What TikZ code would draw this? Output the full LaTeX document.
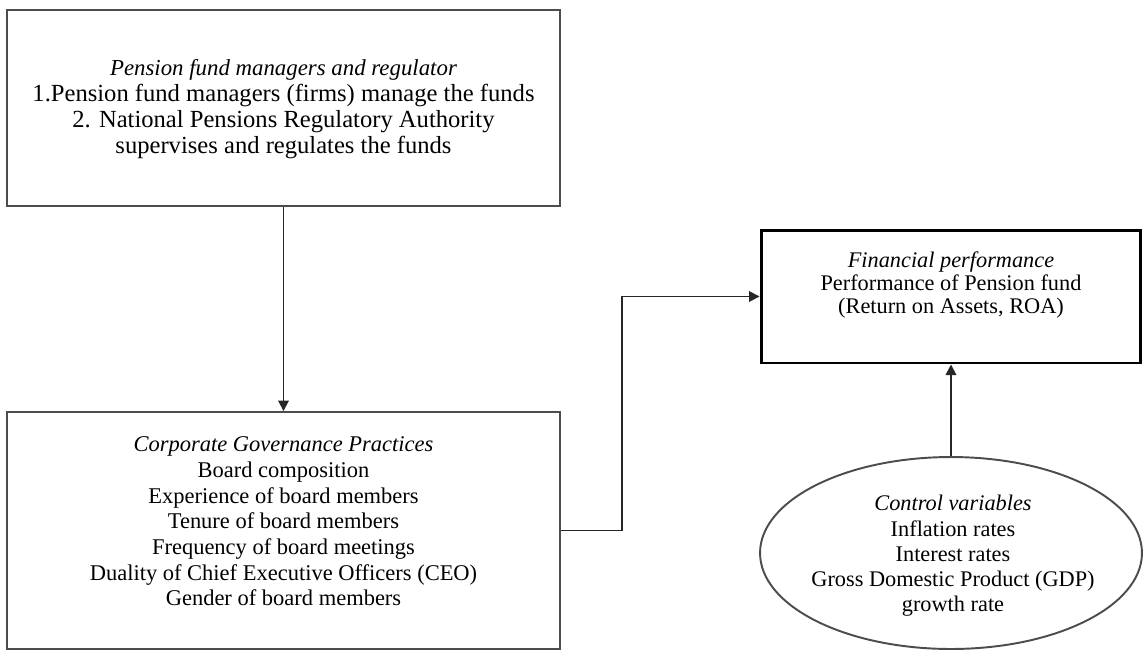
\documentclass[tikz,border=0pt]{standalone}
\usepackage{fontspec}
\setmainfont{Liberation Serif}
\usetikzlibrary{shapes.geometric,arrows.meta,positioning}

\begin{document}
\begin{tikzpicture}[x=0.02cm,y=-0.02cm, line width=1.1pt,
  box/.style={draw=black!70, inner sep=0pt},
  txt/.style={align=center, inner sep=0pt, font=\fontsize{12.8}{14.6}\selectfont},
  conn/.style={draw=black!85, line width=1pt,
    -{Triangle[length=6pt,width=6pt]}}]

\useasboundingbox (0,0) rectangle (1143,650);

% =========================
% boxes
% =========================
\node[box, minimum width=11.06cm, minimum height=3.92cm] (mgr) at (283.5,108) {};
\node[txt, font=\fontsize{14}{14.8}\selectfont] (mgrtext) at (283.5,109)
  {{\fontsize{13}{14.8}\selectfont\textit{Pension fund managers and regulator}}\\
   1.Pension fund managers (firms) manage the funds\\
   2. National Pensions Regulatory Authority\\
   supervises and regulates the funds};

\node[box, minimum width=11.06cm, minimum height=4.74cm] (cgp) at (283.5,530.5) {};
\node[txt] (cgptext) at (283.5,521.5)
  {\textit{Corporate Governance Practices}\\
   Board composition\\
   Experience of board members\\
   Tenure of board members\\
   Frequency of board meetings\\
   Duality of Chief Executive Officers (CEO)\\
   Gender of board members};

\node[box, draw=black, line width=1.7pt, minimum width=7.6cm, minimum height=2.66cm]
  (perf) at (951,296.5) {};
\node[txt, font=\fontsize{12.7}{13.2}\selectfont] (perftext) at (951,285)
  {\textit{Financial performance}\\
   Performance of Pension fund\\
   (Return on Assets, ROA)};

% control variables
\node[box, ellipse, minimum width=7.64cm, minimum height=3.84cm] (ctrl) at (951,553) {};
\node[txt, font=\fontsize{12.7}{14.4}\selectfont] (ctrltext) at (953,556)
  {\textit{Control variables}\\
   Inflation rates\\
   Interest rates\\
   Gross Domestic Product (GDP)\\
   growth rate};

% =========================
% connectors
% =========================
\coordinate (bend) at (622,0);

\draw[conn] (mgr) -- (cgp);
\draw[conn] (cgp.east) -- (cgp.east -| bend) |- (perf.west);
\draw[conn] (ctrl) -- (perf);

\end{tikzpicture}
\end{document}
